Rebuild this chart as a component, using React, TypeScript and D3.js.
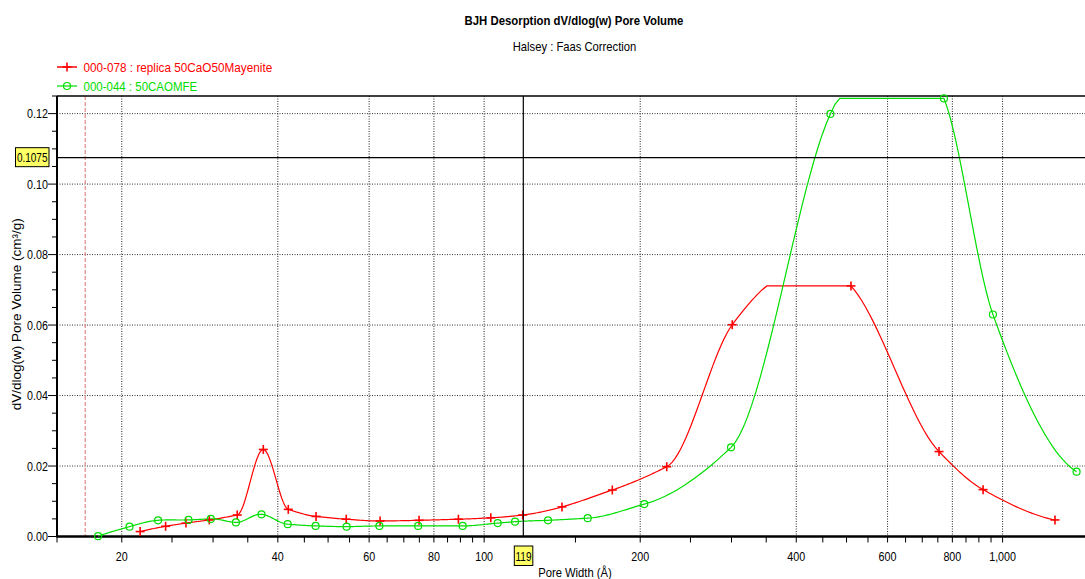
import * as d3 from 'd3'

// BJH desorption dV/dlog(w)
const redName = '000-078 : replica 50CaO50Mayenite'
const redWidth = [21.7, 24.3, 26.6, 29.5, 33.4, 37.5, 41.9, 47.4, 54.2, 63.0, 74.9, 89.2, 103, 118.7, 141.3, 176.7, 225, 301, 510, 754, 917, 1262]
const redVolume = [0.0014, 0.0029, 0.0038, 0.0047, 0.0061, 0.0247, 0.0077, 0.0057, 0.0049, 0.0044, 0.0046, 0.0049, 0.0053, 0.0061, 0.0084, 0.0132, 0.0198, 0.0601, 0.0711, 0.0241, 0.0133, 0.0047]

const greenName = '000-044 : 50CAOMFE'
const greenWidth = [18.0, 20.7, 23.5, 26.9, 29.7, 33.2, 37.2, 41.8, 47.3, 54.3, 62.8, 74.6, 90.9, 106.2, 114.7, 132.8, 158.4, 203.7, 299.4, 465.4, 770.6, 958, 1389]
const greenVolume = [0.0001, 0.0028, 0.0046, 0.0047, 0.0050, 0.0040, 0.0063, 0.0035, 0.0030, 0.0028, 0.0030, 0.0030, 0.0030, 0.0038, 0.0042, 0.0046, 0.0052, 0.0092, 0.0253, 0.1199, 0.1243, 0.0630, 0.0184]

const xMajorTicks = [20, 40, 60, 80, 100, 200, 400, 600, 800, 1000]
const yMajorTicks = [0, 0.02, 0.04, 0.06, 0.08, 0.1, 0.12]
const cursorWidth = 119
const cursorVolume = 0.1075
const minWidthMarker = 17

const W = 1085
const H = 579
const left = 57
const right = 1085
const top = 96
const bottom = 536.5

const RED = '#ff0000'
const GREEN = '#00dd00'
const FONT = 'Arial, "Liberation Sans", sans-serif'

const x = d3.scaleLog().domain([15, 1442]).range([left, right])
const y = d3.scaleLinear().domain([0, 0.125]).range([bottom, top])

// Akima-style spline in log-x pixel space, held inside the data range like the instrument software
function splinePoints(xs: number[], ys: number[]): [number, number][] {
  const px = xs.map(v => x(v))
  const py = ys.map(v => y(v))
  const hi = y(d3.max(ys) as number)
  const lo = y(d3.min(ys) as number)
  const n = px.length
  const s = d3.range(n - 1).map(k => (py[k + 1] - py[k]) / (px[k + 1] - px[k]))
  const sl = (k: number): number => {
    if (k < 0) return 2 * sl(k + 1) - sl(k + 2)
    if (k > n - 2) return 2 * sl(k - 1) - sl(k - 2)
    return s[k]
  }
  const m = px.map((_, i) => {
    const w1 = Math.abs(sl(i + 1) - sl(i))
    const w2 = Math.abs(sl(i - 1) - sl(i - 2))
    if (w1 + w2 < 1e-9) return (sl(i - 1) + sl(i)) / 2
    return (w1 * sl(i - 1) + w2 * sl(i)) / (w1 + w2)
  })
  const out: [number, number][] = []
  for (let i = 0; i < n - 1; i++) {
    const h = px[i + 1] - px[i]
    const steps = 24
    for (let j = 0; j < steps; j++) {
      const t = j / steps
      const t2 = t * t
      const t3 = t2 * t
      const v = (2 * t3 - 3 * t2 + 1) * py[i] + (t3 - 2 * t2 + t) * h * m[i] +
        (-2 * t3 + 3 * t2) * py[i + 1] + (t3 - t2) * h * m[i + 1]
      out.push([px[i] + t * h, Math.min(lo, Math.max(hi, v))])
    }
  }
  out.push([px[n - 1], py[n - 1]])
  return out
}

const line = d3.line()

const xMinorTicks = [
  ...d3.range(15, 100, 5),
  ...d3.range(150, 1000, 50),
].filter(v => !xMajorTicks.includes(v))
const yMinorTicks = d3.range(0, 0.1251, 0.005).filter(v => !yMajorTicks.some(t => Math.abs(t - v) < 1e-6))

// narrow text, the original uses a condensed Arial
function T({ x, y, anchor = 'start', sx = 0.86, size = 12.5, fill = '#000', weight = 'normal', children }: any) {
  return (
    <text transform={`translate(${x},${y}) scale(${sx},1)`} textAnchor={anchor} fontSize={size} fill={fill} fontWeight={weight}>
      {children}
    </text>
  )
}

function Plus({ cx, cy }: { cx: number; cy: number }) {
  return (
    <g stroke={RED} strokeWidth={1.6}>
      <line x1={cx - 4.5} x2={cx + 4.5} y1={cy} y2={cy} />
      <line x1={cx} x2={cx} y1={cy - 4.5} y2={cy + 4.5} />
    </g>
  )
}

export default function App() {
  const fmt = d3.format(',')
  return (
    <svg width={W} height={H} style={{ position: 'absolute', left: 0, top: 0, background: '#fff' }} fontFamily={FONT}>
      {/* titles */}
      <T x={574} y={25} anchor="middle" sx={0.91} weight="bold">BJH Desorption dV/dlog(w) Pore Volume</T>
      <T x={574.5} y={51} anchor="middle" sx={0.9}>Halsey : Faas Correction</T>

      {/* legend */}
      <line x1={57} x2={77} y1={67} y2={67} stroke={RED} strokeWidth={1.5} />
      <Plus cx={67} cy={67} />
      <T x={83.5} y={71.5} sx={0.94} fill={RED}>{redName}</T>
      <line x1={57} x2={77} y1={86} y2={86} stroke={GREEN} strokeWidth={1.2} />
      <circle cx={67} cy={86} r={3.5} fill="none" stroke={GREEN} strokeWidth={1.2} />
      <T x={83.5} y={90.5} sx={0.92} fill={GREEN}>{greenName}</T>

      {/* grid */}
      {yMajorTicks.filter(v => v > 0).map(v => (
        <line key={'gy' + v} x1={left} x2={right} y1={y(v)} y2={y(v)} stroke="#333" strokeWidth={1} strokeDasharray="1,1.5" />
      ))}
      {xMajorTicks.map(v => (
        <line key={'gx' + v} x1={x(v)} x2={x(v)} y1={top} y2={bottom} stroke="#222" strokeWidth={1} strokeDasharray="1,1.5" />
      ))}
      <line x1={x(minWidthMarker)} x2={x(minWidthMarker)} y1={top} y2={bottom} stroke="#e07070" strokeWidth={1} strokeDasharray="4,2" />

      {/* frame */}
      <line x1={left} x2={right} y1={top} y2={top} stroke="#000" strokeWidth={1.5} />
      <line x1={left} x2={left} y1={top} y2={bottom + 1} stroke="#000" strokeWidth={2} />
      <line x1={left} x2={right} y1={bottom} y2={bottom} stroke="#000" strokeWidth={2.5} />

      {/* y axis */}
      {yMajorTicks.map(v => (
        <g key={'ty' + v}>
          <line x1={left - 9} x2={left} y1={y(v)} y2={y(v)} stroke="#000" />
          <T x={left - 9} y={y(v) + 4.5} anchor="end">{v.toFixed(2)}</T>
        </g>
      ))}
      {yMinorTicks.map(v => (
        <line key={'my' + v} x1={left - 5} x2={left} y1={y(v)} y2={y(v)} stroke="#000" />
      ))}
      <text transform={`translate(21,${(top + bottom) / 2 - 2}) rotate(-90)`} textAnchor="middle" fontSize={13.5}>
        dV/dlog(w) Pore Volume (cm³/g)
      </text>

      {/* x axis */}
      {xMajorTicks.map(v => (
        <g key={'tx' + v}>
          <line x1={x(v)} x2={x(v)} y1={bottom} y2={bottom + 6} stroke="#000" />
          <T x={x(v)} y={561} anchor="middle">{fmt(v)}</T>
        </g>
      ))}
      {xMinorTicks.map(v => (
        <line key={'mx' + v} x1={x(v)} x2={x(v)} y1={bottom} y2={bottom + 6} stroke="#000" />
      ))}
      <T x={575} y={576.5} anchor="middle" sx={0.9}>Pore Width (Å)</T>

      {/* series */}
      <path d={line(splinePoints(redWidth, redVolume)) || ''} fill="none" stroke={RED} strokeWidth={1.2} />
      <path d={line(splinePoints(greenWidth, greenVolume)) || ''} fill="none" stroke={GREEN} strokeWidth={1.2} />
      {redWidth.map((w, i) => <Plus key={'r' + i} cx={x(w)} cy={y(redVolume[i])} />)}
      {greenWidth.map((w, i) => (
        <circle key={'g' + i} cx={x(w)} cy={y(greenVolume[i])} r={3.5} fill="none" stroke={GREEN} strokeWidth={1.2} />
      ))}

      {/* cursor */}
      <line x1={left} x2={right} y1={y(cursorVolume)} y2={y(cursorVolume)} stroke="#000" strokeWidth={1.2} />
      <line x1={x(cursorWidth)} x2={x(cursorWidth)} y1={top} y2={bottom} stroke="#000" strokeWidth={1.2} />
      <rect x={15.5} y={y(cursorVolume) - 10} width={33.5} height={19} fill="#ffff66" stroke="#000" strokeWidth={1} />
      <T x={32.2} y={y(cursorVolume) + 4.5} anchor="middle" sx={0.8}>{cursorVolume}</T>
      <rect x={x(cursorWidth) - 9} y={546} width={18.5} height={19.5} fill="#ffff66" stroke="#000" strokeWidth={1} />
      <T x={x(cursorWidth) + 0.2} y={561} anchor="middle" sx={0.8}>{cursorWidth}</T>
    </svg>
  )
}
